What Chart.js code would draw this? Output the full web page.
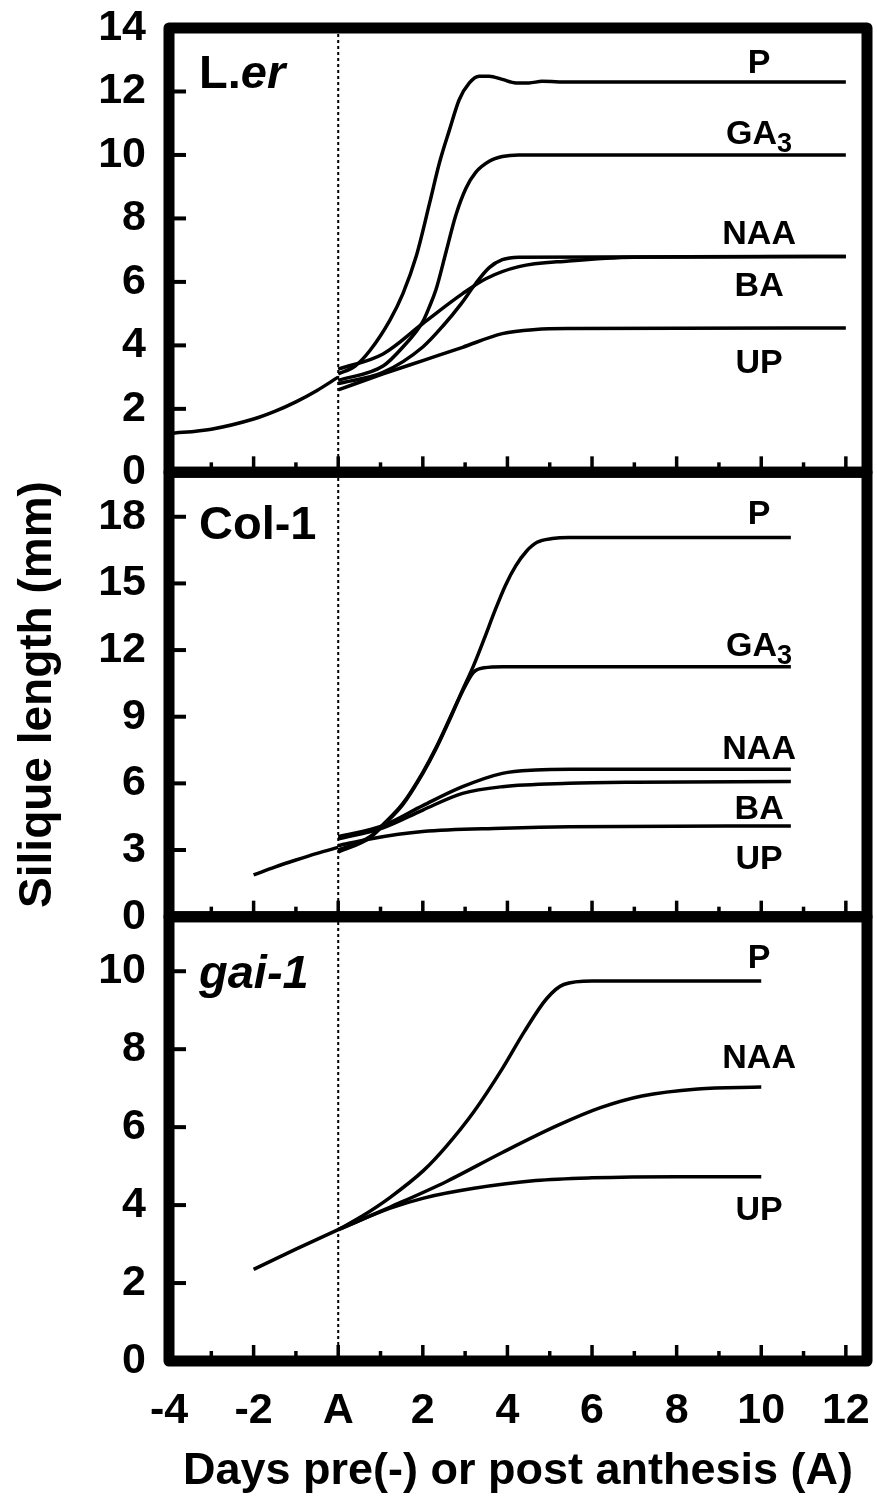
<!DOCTYPE html>
<html>
<head>
<meta charset="utf-8">
<script src="https://cdn.jsdelivr.net/npm/chart.js@4.4.1/dist/chart.umd.min.js"></script>
<style>
html,body{margin:0;padding:0;background:#fff;overflow:hidden;}
#wrap{width:877px;height:1504px;position:relative;}
canvas{display:block;}
</style>
</head>
<body>
<div id="wrap"><canvas id="c"></canvas></div>
<script>
// ---------- tick labels ----------
const xTickValues = [-4, -2, 0, 2, 4, 6, 8, 10, 12];
const xTickLabels = ['-4', '-2', 'A', '2', '4', '6', '8', '10', '12'];
const lerTicks = [0, 2, 4, 6, 8, 10, 12, 14];
const colTicks = [0, 3, 6, 9, 12, 15, 18];
const gaiTicks = [0, 2, 4, 6, 8, 10];

// ---------- L.er ----------
const lerPreDays = [-4, -3, -2, -1.5, -1, -0.5, 0];
const lerPre     = [1.22, 1.36, 1.68, 1.92, 2.22, 2.58, 3.0];
const lerPDays   = [0, 0.4, 0.75, 1.22, 1.53, 1.84, 2.16, 2.39, 2.63, 2.86, 3.1, 3.33, 3.57, 3.88, 4.2, 4.51, 4.82, 5.45, 12];
const lerP       = [3.1, 3.35, 3.84, 4.79, 5.63, 6.79, 8.48, 9.74, 10.79, 11.74, 12.27, 12.48, 12.48, 12.38, 12.27, 12.27, 12.32, 12.3, 12.3];
const lerGADays  = [0, 1.06, 1.53, 2.0, 2.15, 2.31, 2.55, 2.78, 3.02, 3.25, 3.57, 3.88, 4.27, 12];
const lerGA      = [2.9, 3.35, 3.95, 4.75, 5.2, 5.75, 6.95, 8.1, 8.95, 9.45, 9.8, 9.95, 10.0, 10.0];
const lerNAADays = [0, 1.06, 2.0, 2.5, 2.9, 3.25, 3.57, 3.88, 4.27, 12];
const lerNAA     = [2.8, 3.15, 3.95, 4.65, 5.3, 5.95, 6.45, 6.7, 6.78, 6.8];
const lerBADays  = [0, 1.06, 2.0, 2.94, 3.49, 4.27, 5.45, 7, 12];
const lerBA      = [3.25, 3.73, 4.69, 5.63, 6.1, 6.48, 6.66, 6.78, 6.8];
const lerUPDays  = [0, 1.06, 2.0, 2.94, 3.88, 4.67, 5.45, 12];
const lerUP      = [2.6, 3.1, 3.52, 3.94, 4.37, 4.5, 4.53, 4.55];

// ---------- Col-1 ----------
const colPreDays = [-2, -1.5, -1, -0.5, 0];
const colPre     = [1.88, 2.23, 2.55, 2.85, 3.12];
const colPDays   = [0, 0.75, 1.06, 1.53, 2.0, 2.31, 2.63, 2.94, 3.2, 3.45, 3.7, 3.95, 4.2, 4.45, 4.7, 5.06, 5.45, 10.7];
const colP       = [3.0, 3.6, 4.15, 5.1, 6.5, 7.6, 8.9, 10.2, 11.3, 12.5, 13.75, 14.9, 15.8, 16.45, 16.85, 17.02, 17.07, 17.07];
const colGADays  = [0, 0.75, 1.06, 1.53, 2.0, 2.31, 2.63, 2.94, 3.2, 3.45, 3.9, 10.7];
const colGA      = [2.9, 3.55, 4.1, 5.05, 6.45, 7.55, 8.85, 10.15, 11.0, 11.2, 11.25, 11.25];
const colNAADays = [0, 1.06, 2.0, 2.94, 3.88, 4.67, 5.5, 10.7];
const colNAA     = [3.6, 4.1, 5.0, 5.85, 6.45, 6.6, 6.63, 6.63];
const colBADays  = [0, 1.06, 2.0, 2.94, 3.88, 5.45, 7, 10.7];
const colBA      = [3.5, 4.0, 4.8, 5.55, 5.85, 6.0, 6.05, 6.08];
const colUPDays  = [0, 0.75, 2.0, 3.88, 5.45, 10.7];
const colUP      = [3.2, 3.5, 3.83, 3.98, 4.05, 4.08];

// ---------- gai-1 ----------
const gaiPreDays = [-2, -1, 0];
const gaiPre     = [2.35, 2.87, 3.37];
const gaiPDays   = [0, 0.57, 1.23, 2.02, 2.55, 3.21, 3.88, 4.4, 4.93, 5.33, 6, 10];
const gaiP       = [3.37, 3.72, 4.2, 4.89, 5.5, 6.4, 7.5, 8.45, 9.3, 9.66, 9.75, 9.75];
const gaiNAADays = [0, 1.23, 2.55, 3.88, 5.2, 6.2, 7.18, 8.5, 10];
const gaiNAA     = [3.37, 3.95, 4.6, 5.35, 6.05, 6.5, 6.8, 6.98, 7.03];
const gaiUPDays  = [0, 1.23, 2.02, 3.21, 4.67, 6, 8, 10];
const gaiUP      = [3.37, 3.92, 4.18, 4.43, 4.63, 4.7, 4.73, 4.73];

// ---------- fonts ----------
const NUM_FONT = "'Liberation Sans Narrow', 'Arial Narrow', 'Liberation Sans', Arial, sans-serif";
const TXT_FONT = "'Liberation Sans', Arial, sans-serif";

function pts(days, vals) { return days.map((d, i) => ({ x: d, y: vals[i] })); }
function line(label, days, vals, axis) {
  return {
    label: label, data: pts(days, vals), yAxisID: axis,
    borderColor: '#000', borderWidth: 3.5, pointRadius: 0,
    fill: false, cubicInterpolationMode: 'monotone', tension: 0.4
  };
}

const datasets = [
  line('L.er pre', lerPreDays, lerPre, 'yLer'),
  line('L.er P', lerPDays, lerP, 'yLer'),
  line('L.er GA3', lerGADays, lerGA, 'yLer'),
  line('L.er NAA', lerNAADays, lerNAA, 'yLer'),
  line('L.er BA', lerBADays, lerBA, 'yLer'),
  line('L.er UP', lerUPDays, lerUP, 'yLer'),
  line('Col-1 pre', colPreDays, colPre, 'yCol'),
  line('Col-1 P', colPDays, colP, 'yCol'),
  line('Col-1 GA3', colGADays, colGA, 'yCol'),
  line('Col-1 NAA', colNAADays, colNAA, 'yCol'),
  line('Col-1 BA', colBADays, colBA, 'yCol'),
  line('Col-1 UP', colUPDays, colUP, 'yCol'),
  line('gai-1 pre', gaiPreDays, gaiPre, 'yGai'),
  line('gai-1 P', gaiPDays, gaiP, 'yGai'),
  line('gai-1 NAA', gaiNAADays, gaiNAA, 'yGai'),
  line('gai-1 UP', gaiUPDays, gaiUP, 'yGai')
];

// label anchors (day, value) for the right-hand treatment names
const lerNames = [['P', 9.95, 12.96], ['GA3', 9.95, 10.74], ['NAA', 9.95, 7.58], ['BA', 9.95, 5.95], ['UP', 9.95, 3.52]];
const colNames = [['P', 9.95, 18.2], ['GA3', 9.95, 12.3], ['NAA', 9.95, 7.65], ['BA', 9.95, 4.95], ['UP', 9.95, 2.7]];
const gaiNames = [['P', 9.95, 10.39], ['NAA', 9.95, 7.82], ['UP', 9.95, 3.92]];

const panelTitles = {
  yLer: { parts: [['L.', false], ['er', true]], dy: 60 },
  yCol: { parts: [['Col-1', false]], dy: 67 },
  yGai: { parts: [['gai-1', true]], dy: 71 }
};
const panelNames = { yLer: lerNames, yCol: colNames, yGai: gaiNames };
const panelIds = ['yLer', 'yCol', 'yGai'];

const decor = {
  id: 'decor',
  beforeDatasetsDraw(chart) {
    const ctx = chart.ctx, a = chart.chartArea, xs = chart.scales.x;
    const x0 = xs.getPixelForValue(0);
    ctx.save();
    ctx.strokeStyle = '#000';
    ctx.lineWidth = 2;
    ctx.setLineDash([3, 3]);
    ctx.beginPath();
    ctx.moveTo(x0, a.top);
    ctx.lineTo(x0, a.bottom);
    ctx.stroke();
    ctx.restore();
  },
  afterDatasetsDraw(chart) {
    const ctx = chart.ctx, a = chart.chartArea, xs = chart.scales.x;
    ctx.save();
    ctx.strokeStyle = '#000';
    ctx.fillStyle = '#000';
    panelIds.forEach(id => {
      const ys = chart.scales[id];
      ctx.lineWidth = 4;
      ys.ticks.forEach(t => {
        const py = ys.getPixelForValue(t.value);
        ctx.beginPath(); ctx.moveTo(a.left, py); ctx.lineTo(a.left + 17, py); ctx.stroke();
      });
      ctx.lineWidth = 3.5;
      const vals = xs.ticks.map(t => t.value);
      vals.forEach((v, i) => {
        const px = xs.getPixelForValue(v);
        ctx.beginPath(); ctx.moveTo(px, ys.bottom); ctx.lineTo(px, ys.bottom - 16); ctx.stroke();
        if (i < vals.length - 1) {
          const pm = xs.getPixelForValue((v + vals[i + 1]) / 2);
          ctx.beginPath(); ctx.moveTo(pm, ys.bottom); ctx.lineTo(pm, ys.bottom - 10); ctx.stroke();
        }
      });
      ctx.lineWidth = 11;
      ctx.lineJoin = 'round';
      ctx.strokeRect(a.left, ys.top, a.right - a.left, ys.bottom - ys.top);
      panelNames[id].forEach(n => {
        const cx = xs.getPixelForValue(n[1]);
        const cy = ys.getPixelForValue(n[2]);
        const fs = 34;
        const base = cy + 0.358 * fs;
        if (n[0] === 'GA3') {
          ctx.font = 'bold ' + fs + 'px ' + TXT_FONT;
          const w1 = ctx.measureText('GA').width;
          ctx.font = 'bold 27px ' + TXT_FONT;
          const w2 = ctx.measureText('3').width;
          const sx = cx - (w1 + w2) / 2;
          ctx.textAlign = 'left'; ctx.textBaseline = 'alphabetic';
          ctx.font = 'bold ' + fs + 'px ' + TXT_FONT;
          ctx.fillText('GA', sx, base);
          ctx.font = 'bold 27px ' + TXT_FONT;
          ctx.fillText('3', sx + w1, base + 8);
        } else {
          ctx.font = 'bold ' + fs + 'px ' + TXT_FONT;
          ctx.textAlign = 'center'; ctx.textBaseline = 'alphabetic';
          ctx.fillText(n[0], cx, base);
        }
      });
      const pt = panelTitles[id];
      let tx = a.left + 30;
      const ty = ys.top + pt.dy;
      ctx.textAlign = 'left'; ctx.textBaseline = 'alphabetic';
      pt.parts.forEach(p => {
        ctx.font = (p[1] ? 'italic ' : '') + 'bold 47px ' + TXT_FONT;
        ctx.fillText(p[0], tx, ty);
        tx += ctx.measureText(p[0]).width;
      });
    });
    ctx.restore();
  }
};

function yScale(ticksArr, max, weight, extra) {
  const s = {
    type: 'linear', position: 'left', stack: 'panels', stackWeight: 1, weight: weight,
    min: 0, max: max,
    afterBuildTicks: sc => { sc.ticks = ticksArr.map(v => ({ value: v })); },
    afterFit: sc => { sc.width = 169; },
    ticks: { color: '#000', padding: 0, font: { family: NUM_FONT, size: 43, weight: 'bold' }, autoSkip: false },
    grid: { display: false, drawTicks: true, tickLength: 23 },
    border: { display: false }
  };
  return Object.assign(s, extra || {});
}

new Chart(document.getElementById('c'), {
  type: 'line',
  data: { datasets: datasets },
  options: {
    responsive: true, maintainAspectRatio: false, animation: false,
    layout: { padding: { top: 28, right: 10, bottom: 0, left: 0 } },
    plugins: { legend: { display: false }, tooltip: { enabled: false } },
    scales: {
      x: {
        type: 'linear', position: 'bottom', min: -4, max: 12.5,
        afterBuildTicks: sc => { sc.ticks = xTickValues.map(v => ({ value: v })); },
        afterFit: sc => { sc.height = 143; },
        ticks: {
          color: '#000', padding: 0, autoSkip: false, maxRotation: 0,
          font: { family: NUM_FONT, size: 43, weight: 'bold' },
          callback: v => xTickLabels[xTickValues.indexOf(v)]
        },
        grid: { display: false, drawTicks: true, tickLength: 24 },
        border: { display: false },
        title: {
          display: true, text: 'Days pre(-) or post anthesis (A)', color: '#000',
          font: { family: TXT_FONT, size: 45, weight: 'bold' }, padding: { top: 0, bottom: 5 }
        }
      },
      yLer: yScale(lerTicks, 14, 3),
      yCol: yScale(colTicks, 20, 2, {
        title: {
          display: true, text: 'Silique length (mm)', color: '#000',
          font: { family: TXT_FONT, size: 46, weight: 'bold' }, padding: { top: 11, bottom: 0 }
        }
      }),
      yGai: yScale(gaiTicks, 11.4, 1)
    }
  },
  plugins: [decor]
});
</script>
</body>
</html>
